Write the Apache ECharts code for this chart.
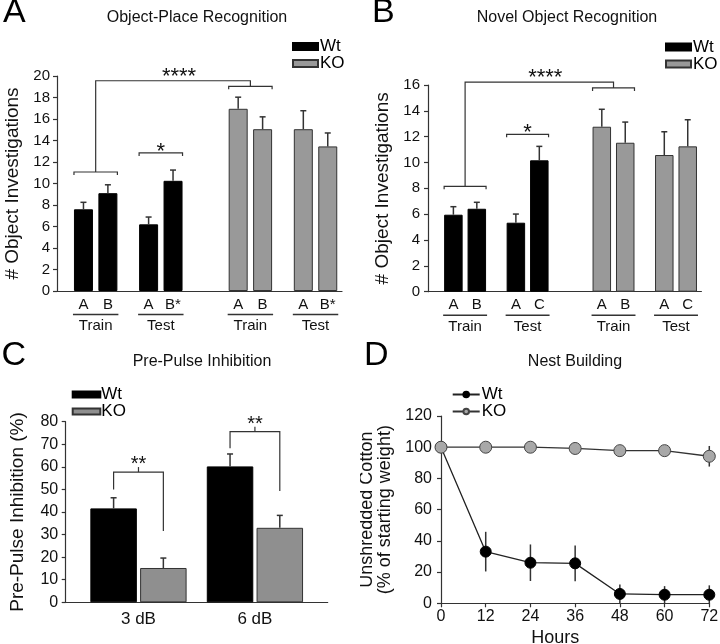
<!DOCTYPE html>
<html><head><meta charset="utf-8">
<script src="https://cdn.jsdelivr.net/npm/echarts@6/dist/echarts.min.js"></script>
<style>
body{margin:0;background:#fff;width:720px;height:644px;position:relative;overflow:hidden}
.p{position:absolute}
</style></head><body>
<div id="pa" class="p" style="left:0;top:0;width:360px;height:345px"></div>
<div id="pb" class="p" style="left:360px;top:0;width:360px;height:345px"></div>
<div id="pc" class="p" style="left:0;top:330px;width:360px;height:314px"></div>
<div id="pd" class="p" style="left:360px;top:330px;width:360px;height:314px"></div>
<script>
// ---------- DATA ----------
// A: Object-Place Recognition
const oprLabels = ['A','B','A','B*','A','B','A','B*'];
const oprGroups = ['Train','Test','Train','Test'];
const oprWt = [7.6, 9.1, 6.2, 10.25];
const oprWtErr = [0.65, 0.78, 0.68, 1.0];
const oprKo = [16.95, 15.05, 15.05, 13.45];
const oprKoErr = [1.08, 1.15, 1.72, 1.25];
const oprBrackets = [11.07, 12.84, 19.04, 19.56]; // Wt train, Wt test, KO train, top connector

// B: Novel Object Recognition
const norLabels = ['A','B','A','C','A','B','A','C'];
const norGroups = ['Train','Test','Train','Test'];
const norWt = [5.96, 6.42, 5.34, 10.17];
const norWtErr = [0.62, 0.5, 0.67, 1.08];
const norKo = [12.77, 11.53, 10.58, 11.25];
const norKoErr = [1.35, 1.6, 1.8, 2.06];
const norBrackets = [8.16, 12.18, 15.77, 16.23];

// C: Pre-Pulse Inhibition
const ppiCats = ['3 dB','6 dB'];
const ppiWt = [41.6, 60.2];
const ppiWtErr = [4.7, 5.5];
const ppiKo = [15.2, 33.0];
const ppiKoErr = [4.4, 5.5];
const ppiBrackets = [[57.7, 50.0, 31.6], [75.6, 68.2, 49.3]]; // level, left leg end, right leg end

// D: Nest Building
const nestHours = [0, 12, 24, 36, 48, 60, 72];
const nestWt = [100, 33.1, 26.0, 25.6, 6.0, 5.5, 5.5];
const nestWtErr = [0, 12.7, 11.7, 11.5, 6.0, 5.5, 6.0];
const nestKo = [100, 100, 100, 99.2, 97.8, 97.8, 94.2];
const nestKoErr = [0, 0, 0, 0.5, 1.0, 1.0, 6.6];

// ---------- STYLE HELPERS ----------
const FONT = '"Liberation Sans", Arial, Helvetica, sans-serif';
const INK = '#333';
const TXT = '#111';
function gLine(x1,y1,x2,y2,w){return {type:'line',silent:true,shape:{x1,y1,x2,y2},style:{stroke:INK,lineWidth:w||1.2}};}
function gPoly(pts,w){return {type:'polyline',silent:true,shape:{points:pts},style:{stroke:INK,lineWidth:w||1.2,fill:null}};}
function gText(x,y,s,size){return {type:'text',silent:true,x,y,style:{text:s,fontSize:size,fontFamily:FONT,fill:TXT,align:'center',verticalAlign:'middle'}};}

function errRender(cap, both, dxFn){
  return function(params, api){
    const x = api.value(0), y = api.value(1), e = api.value(2);
    const dx = dxFn ? dxFn(api.value(3)) : 0;
    const t = api.coord([x, y + e]);
    const b = api.coord([x, both ? y - e : y]);
    const cx = t[0] + dx;
    const ch = [{type:'line',shape:{x1:cx,y1:t[1],x2:cx,y2:b[1]},style:{stroke:INK,lineWidth:1.5}}];
    if (cap) ch.push({type:'line',shape:{x1:cx-cap/2,y1:t[1],x2:cx+cap/2,y2:t[1]},style:{stroke:INK,lineWidth:1.5}});
    return {type:'group',children:ch};
  };
}

function titles(letter, lx, ly, title, tx, ty){
  return [
    {text:letter,left:lx,top:ly,padding:0,textStyle:{fontSize:34,fontWeight:'normal',color:'#000',fontFamily:FONT}},
    {text:title,left:tx,top:ty,padding:0,textAlign:'center',textStyle:{fontSize:16,fontWeight:'normal',color:TXT,fontFamily:FONT}}
  ];
}
function yAxisBase(max, interval, fs, margin){
  return {type:'value',min:0,max:max,interval:interval,
    axisLine:{show:true,lineStyle:{color:INK,width:1.2}},
    axisTick:{show:true,length:4,lineStyle:{color:INK,width:1.2}},
    splitLine:{show:false},
    axisLabel:{fontSize:fs,color:TXT,margin:margin,fontFamily:FONT}};
}

// ---------- A & B ----------
function recog(el, o){
  const chart = echarts.init(el);
  const N = 70;
  const slots = [6,12,22,28,44,50,60,66];
  const cats = new Array(N).fill('');
  o.labels.forEach((l,i)=>{cats[slots[i]] = l;});
  const wt = new Array(N).fill('-'), ko = new Array(N).fill('-');
  o.wt.forEach((v,i)=>{wt[slots[i]] = v;});
  o.ko.forEach((v,i)=>{ko[slots[4+i]] = v;});
  const err = [];
  o.wt.forEach((v,i)=>err.push([slots[i], v, o.wtErr[i]]));
  o.ko.forEach((v,i)=>err.push([slots[4+i], v, o.koErr[i]]));
  const ya = yAxisBase(o.max, 2, 15, o.lm);
  ya.name = '# Object Investigations';
  ya.nameLocation = 'middle';
  ya.nameGap = o.nameGap;
  ya.nameTextStyle = {fontSize:19,color:TXT,fontFamily:FONT};
  chart.setOption({
    animation:false,
    textStyle:{fontFamily:FONT},
    title:titles(o.letter, o.lx, o.ly, o.title, o.tx, 10),
    legend:{orient:'vertical',left:o.legX,top:o.legY,padding:0,itemWidth:25,itemHeight:7,itemGap:0,icon:'rect',
      textStyle:{fontSize:17,lineHeight:15,color:'#000',fontFamily:FONT,padding:[0,0,0,-3]},data:['Wt','KO']},
    grid:{left:o.gl,top:o.gt,width:o.gw,height:o.gh,containLabel:false,outerBoundsMode:'none'},
    xAxis:{type:'category',data:cats,axisTick:{show:false},
      axisLine:{lineStyle:{color:INK,width:1.2}},
      axisLabel:{interval:0,fontSize:15,color:TXT,margin:6,fontFamily:FONT}},
    yAxis:ya,
    series:[
      {name:'Wt',type:'bar',data:wt,barWidth:o.bw,barGap:'-100%',itemStyle:{color:'#000',borderColor:'#000',borderWidth:1}},
      {name:'KO',type:'bar',data:ko,barWidth:o.bw,barGap:'-100%',itemStyle:{color:'#999',borderColor:'#333',borderWidth:1}},
      {type:'custom',data:err,renderItem:errRender(6,false),z:3,silent:true}
    ]
  });
  const px = (s,v)=>chart.convertToPixel({xAxisIndex:0,yAxisIndex:0},[s,v]);
  const left = i => px(slots[i],0)[0] - o.bw/2;
  const right = i => px(slots[i],0)[0] + o.bw/2;
  const yv = v => px(slots[0],v)[1];
  const axisY = yv(0);
  const g = [];
  for (let k=0;k<4;k++){
    const x1 = left(2*k)-1, x2 = right(2*k+1)+1;
    g.push(gLine(x1, axisY+23.5, x2, axisY+23.5, 1.5));
    g.push(gText((x1+x2)/2, axisY+35, o.groups[k], 15));
  }
  function pair(a,b,v){
    const y = yv(v), x1 = left(a), x2 = right(b);
    g.push(gPoly([[x1,y+3],[x1,y],[x2,y],[x2,y+3]]));
    return [(x1+x2)/2, y];
  }
  const m1 = pair(0,1,o.br[0]);
  const m2 = pair(2,3,o.br[1]);
  g.push(gText(m2[0], m2[1]-1, '*', 22));
  const m3 = pair(4,5,o.br[2]);
  const yt = yv(o.br[3]);
  g.push(gPoly([[m1[0],m1[1]],[m1[0],yt],[m3[0],yt],[m3[0],m3[1]]]));
  g.push(gText((m1[0]+m3[0])/2+6, yt-4, '****', 22));
  chart.setOption({graphic:g});
}

recog(document.getElementById('pa'), {
  labels:oprLabels, groups:oprGroups, wt:oprWt, wtErr:oprWtErr, ko:oprKo, koErr:oprKoErr, br:oprBrackets,
  max:20, letter:'A', lx:3, ly:-4, title:'Object-Place Recognition', tx:197,
  legX:292, legY:38, gl:57, gt:76, gw:285, gh:215, bw:19, lm:7, nameGap:29
});
recog(document.getElementById('pb'), {
  labels:norLabels, groups:norGroups, wt:norWt, wtErr:norWtErr, ko:norKo, koErr:norKoErr, br:norBrackets,
  max:16, letter:'B', lx:12, ly:-4, title:'Novel Object Recognition', tx:207,
  legX:305, legY:38.5, gl:68, gt:85, gw:273.4, gh:206.7, bw:18.5, lm:8, nameGap:25
});

// ---------- C ----------
(function(){
  const chart = echarts.init(document.getElementById('pc'));
  const N = 9, slots = [2,6];
  const cats = new Array(N).fill('');
  ppiCats.forEach((c,i)=>{cats[slots[i]] = c;});
  const wt = new Array(N).fill('-'), ko = new Array(N).fill('-');
  ppiWt.forEach((v,i)=>{wt[slots[i]] = v;});
  ppiKo.forEach((v,i)=>{ko[slots[i]] = v;});
  const bw = 46.5, gap = 0.07;
  const off = (bw + bw*gap)/2;
  const err = [];
  ppiWt.forEach((v,i)=>err.push([slots[i], v, ppiWtErr[i], 0]));
  ppiKo.forEach((v,i)=>err.push([slots[i], v, ppiKoErr[i], 1]));
  const ya = yAxisBase(80, 10, 16, 7.5);
  ya.name = 'Pre-Pulse Inhibition (%)';
  ya.nameLocation = 'middle';
  ya.nameGap = 38;
  ya.nameTextStyle = {fontSize:19,color:TXT,fontFamily:FONT};
  chart.setOption({
    animation:false,
    textStyle:{fontFamily:FONT},
    title:titles('C', 1.5, 9, 'Pre-Pulse Inhibition', 202, 23.5),
    legend:{orient:'vertical',left:71.7,top:56,padding:0,itemWidth:27.6,itemHeight:6,itemGap:0,icon:'rect',
      textStyle:{fontSize:17,lineHeight:13,color:'#000',fontFamily:FONT,padding:[0,0,0,-4]},data:['Wt','KO']},
    grid:{left:65.7,top:91.7,width:262,height:180.6,containLabel:false,outerBoundsMode:'none'},
    xAxis:{type:'category',data:cats,axisTick:{show:false},
      axisLine:{lineStyle:{color:INK,width:1.2}},
      axisLabel:{interval:0,fontSize:17,color:TXT,margin:9,fontFamily:FONT}},
    yAxis:ya,
    series:[
      {name:'Wt',type:'bar',data:wt,barWidth:bw,barGap:(gap*100)+'%',itemStyle:{color:'#000',borderColor:'#000',borderWidth:1}},
      {name:'KO',type:'bar',data:ko,barWidth:bw,barGap:(gap*100)+'%',itemStyle:{color:'#8f8f8f',borderColor:'#333',borderWidth:1}},
      {type:'custom',data:err,renderItem:errRender(6,false,s=>s?off:-off),z:3,silent:true}
    ]
  });
  const px = (s,v)=>chart.convertToPixel({xAxisIndex:0,yAxisIndex:0},[s,v]);
  const yv = v => px(slots[0],v)[1];
  const g = [];
  ppiBrackets.forEach((b,k)=>{
    const cx = px(slots[k],0)[0], xl = cx-off, xr = cx+off, Y = yv(b[0]);
    g.push(gPoly([[xl,yv(b[1])],[xl,Y],[xr,Y],[xr,yv(b[2])]]));
    g.push(gLine(cx, Y, cx, Y-5));
    g.push(gText(cx, Y-7.5, '**', 20));
  });
  chart.setOption({graphic:g});
})();

// ---------- D ----------
(function(){
  const chart = echarts.init(document.getElementById('pd'));
  const wt = nestHours.map((h,i)=>[h, nestWt[i]]);
  const ko = nestHours.map((h,i)=>[h, nestKo[i]]);
  const err = [];
  nestHours.forEach((h,i)=>{ if (nestWtErr[i]) err.push([h, nestWt[i], nestWtErr[i]]); });
  nestHours.forEach((h,i)=>{ if (nestKoErr[i]) err.push([h, nestKo[i], nestKoErr[i]]); });
  const ya = yAxisBase(120, 20, 16, 9);
  ya.name = 'Unshredded Cotton\n(% of starting weight)';
  ya.nameLocation = 'middle';
  ya.nameGap = 39;
  ya.nameTextStyle = {fontSize:18,lineHeight:18,color:TXT,fontFamily:FONT};
  chart.setOption({
    animation:false,
    textStyle:{fontFamily:FONT},
    title:titles('D', 4, 9, 'Nest Building', 215, 23.5),
    legend:{orient:'vertical',left:91.7,top:56,padding:0,itemWidth:27,itemHeight:7,itemGap:0,
      textStyle:{fontSize:17,lineHeight:13,color:'#000',fontFamily:FONT,padding:[0,0,0,-3]},data:['Wt','KO']},
    grid:{left:81,top:86,width:268.3,height:187.3,containLabel:false,outerBoundsMode:'none'},
    xAxis:{type:'value',min:0,max:72,interval:12,
      axisLine:{show:true,lineStyle:{color:INK,width:1.2}},
      axisTick:{show:true,length:4,lineStyle:{color:INK,width:1.2}},
      splitLine:{show:false},
      axisLabel:{fontSize:16,color:TXT,margin:5,fontFamily:FONT},
      name:'Hours',nameLocation:'middle',nameGap:26,
      nameTextStyle:{fontSize:18,color:TXT,fontFamily:FONT,padding:[0,40,0,0]}},
    yAxis:ya,
    series:[
      {type:'custom',data:err,renderItem:errRender(0,true),z:1,silent:true},
      {name:'Wt',type:'line',data:wt,symbol:'circle',symbolSize:11,z:3,
        lineStyle:{color:'#222',width:1.3},itemStyle:{color:'#000',borderColor:'#000',borderWidth:1}},
      {name:'KO',type:'line',data:ko,symbol:'circle',symbolSize:12,z:3,
        lineStyle:{color:'#333',width:1.3},itemStyle:{color:'#a8a8a8',borderColor:'#444',borderWidth:1}}
    ]
  });
})();
</script>
</body></html>
